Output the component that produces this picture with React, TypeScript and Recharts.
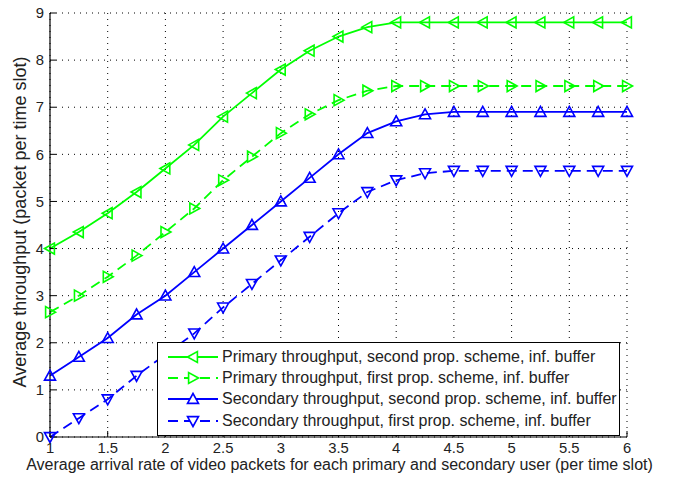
import { LineChart, Line, XAxis, YAxis, CartesianGrid, Legend, Label } from "recharts";

const xValues = [1, 1.25, 1.5, 1.75, 2, 2.25, 2.5, 2.75, 3, 3.25, 3.5, 3.75, 4, 4.25, 4.5, 4.75, 5, 5.25, 5.5, 5.75, 6];
const primarySecond = [4.0, 4.35, 4.75, 5.2, 5.7, 6.2, 6.8, 7.3, 7.8, 8.2, 8.5, 8.7, 8.8, 8.8, 8.8, 8.8, 8.8, 8.8, 8.8, 8.8, 8.8];
const primaryFirst = [2.65, 3.0, 3.4, 3.85, 4.35, 4.85, 5.45, 5.95, 6.45, 6.85, 7.15, 7.35, 7.45, 7.45, 7.45, 7.45, 7.45, 7.45, 7.45, 7.45, 7.45];
const secondarySecond = [1.3, 1.7, 2.1, 2.6, 3.0, 3.5, 4.0, 4.5, 5.0, 5.5, 6.0, 6.45, 6.7, 6.85, 6.9, 6.9, 6.9, 6.9, 6.9, 6.9, 6.9];
const secondaryFirst = [0.0, 0.4, 0.8, 1.3, 1.75, 2.2, 2.75, 3.25, 3.75, 4.25, 4.75, 5.2, 5.45, 5.6, 5.65, 5.65, 5.65, 5.65, 5.65, 5.65, 5.65];

const xTicks = [1, 1.5, 2, 2.5, 3, 3.5, 4, 4.5, 5, 5.5, 6];
const yTicks = [0, 1, 2, 3, 4, 5, 6, 7, 8, 9];

const FONT = '"Liberation Sans", Arial, Helvetica, sans-serif';
const GREEN = "#00ff00";
const BLUE = "#0000ff";

type Dir = "left" | "right" | "up" | "down";

const SERIES: { key: string; name: string; color: string; dashed: boolean; dir: Dir }[] = [
  { key: "ps", name: "Primary throughput, second prop. scheme, inf. buffer", color: GREEN, dashed: false, dir: "left" },
  { key: "pf", name: "Primary throughput, first prop. scheme, inf. buffer", color: GREEN, dashed: true, dir: "right" },
  { key: "ss", name: "Secondary throughput, second prop. scheme, inf. buffer", color: BLUE, dashed: false, dir: "up" },
  { key: "sf", name: "Secondary throughput, first prop. scheme, inf. buffer", color: BLUE, dashed: true, dir: "down" },
];

const data = xValues.map((x, i) => ({
  x,
  ps: primarySecond[i],
  pf: primaryFirst[i],
  ss: secondarySecond[i],
  sf: secondaryFirst[i],
}));

function trianglePoints(cx: number, cy: number, dir: Dir, r = 5.5) {
  const h = r * 0.8;
  switch (dir) {
    case "left":
      return `${cx - r},${cy} ${cx + h},${cy - r} ${cx + h},${cy + r}`;
    case "right":
      return `${cx + r},${cy} ${cx - h},${cy - r} ${cx - h},${cy + r}`;
    case "up":
      return `${cx},${cy - r} ${cx - r},${cy + h} ${cx + r},${cy + h}`;
    default:
      return `${cx},${cy + r} ${cx - r},${cy - h} ${cx + r},${cy - h}`;
  }
}

function Marker({ cx, cy, dir, color }: { cx: number; cy: number; dir: Dir; color: string }) {
  if (cx == null || cy == null) return null;
  return <polygon points={trianglePoints(cx, cy, dir)} fill="none" stroke={color} strokeWidth={1.6} />;
}

function LegendBox() {
  return (
    <div
      style={{
        border: "1px solid #000",
        background: "#fff",
        padding: "3px 2px 4px 8px",
        fontFamily: FONT,
        fontSize: 16,
        color: "#222",
        whiteSpace: "nowrap",
      }}
    >
      {SERIES.map((s) => (
        <div key={s.key} style={{ display: "flex", alignItems: "center", height: 21.3 }}>
          <svg width={54} height={20} style={{ marginRight: 2 }}>
            <line x1={2} y1={10} x2={52} y2={10} stroke={s.color} strokeWidth={1.8} strokeDasharray={s.dashed ? "10 6" : undefined} />
            <polygon points={trianglePoints(27, 10, s.dir)} fill="#fff" stroke={s.color} strokeWidth={1.6} />
          </svg>
          <span>{s.name}</span>
        </div>
      ))}
    </div>
  );
}

export default function App() {
  return (
    <div style={{ position: "absolute", left: 0, top: 0, background: "#fff" }}>
      <LineChart width={673} height={485} data={data} margin={{ top: 13, right: 46, bottom: 0, left: 0 }}>
        <CartesianGrid stroke="#000" strokeDasharray="1 5" strokeWidth={1} />
        <XAxis
          dataKey="x"
          type="number"
          domain={[1, 6]}
          ticks={xTicks}
          height={48}
          tickSize={-6}
          tickMargin={11}
          stroke="#000"
          tick={{ fill: "#222", fontSize: 14.8, fontFamily: FONT }}
          tickLine={{ stroke: "#000" }}
          axisLine={{ stroke: "#000", strokeWidth: 1.2 }}
          allowDecimals
        >
          <Label
            content={({ viewBox }: any) => (
              <text
                x={viewBox.x + viewBox.width / 2 + 1}
                y={viewBox.y + 33}
                textAnchor="middle"
                fontSize={16}
                fontFamily={FONT}
                fill="#222"
              >
                Average arrival rate of video packets for each primary and secondary user (per time slot)
              </text>
            )}
          />
        </XAxis>
        <XAxis
          xAxisId="top"
          orientation="top"
          dataKey="x"
          type="number"
          domain={[1, 6]}
          ticks={xTicks}
          height={0}
          tickSize={-6}
          tick={false}
          tickLine={{ stroke: "#000" }}
          axisLine={{ stroke: "#000", strokeWidth: 1.2 }}
        />
        <YAxis
          domain={[0, 9]}
          ticks={yTicks}
          width={50}
          tickSize={-6}
          tickMargin={12}
          tick={{ fill: "#222", fontSize: 14.8, fontFamily: FONT }}
          tickLine={{ stroke: "#000" }}
          axisLine={{ stroke: "#000", strokeWidth: 1.2 }}
        >
          <Label
            content={({ viewBox }: any) => {
              const cx = 26;
              const cy = viewBox.y + viewBox.height / 2 - 3;
              return (
                <text
                  x={cx}
                  y={cy}
                  transform={`rotate(-90, ${cx}, ${cy})`}
                  textAnchor="middle"
                  fontSize={18}
                  fontFamily={FONT}
                  fill="#222"
                >
                  Average throughput (packet per time slot)
                </text>
              );
            }}
          />
        </YAxis>
        <YAxis
          yAxisId="right"
          orientation="right"
          domain={[0, 9]}
          ticks={yTicks}
          width={0}
          tickSize={-6}
          tick={false}
          tickLine={{ stroke: "#000" }}
          axisLine={{ stroke: "#000", strokeWidth: 1.2 }}
        />
        {SERIES.map((s) => (
          <Line
            key={s.key}
            dataKey={s.key}
            name={s.name}
            stroke={s.color}
            strokeWidth={1.8}
            strokeDasharray={s.dashed ? "10 6" : undefined}
            isAnimationActive={false}
            dot={(p: any) => <Marker key={`${s.key}-${p.index}`} cx={p.cx} cy={p.cy} dir={s.dir} color={s.color} />}
            activeDot={false}
          />
        ))}
        <Legend
          layout="vertical"
          align="center"
          verticalAlign="middle"
          wrapperStyle={{ left: 157, top: 342, width: "auto" }}
          content={() => <LegendBox />}
        />
      </LineChart>
    </div>
  );
}
